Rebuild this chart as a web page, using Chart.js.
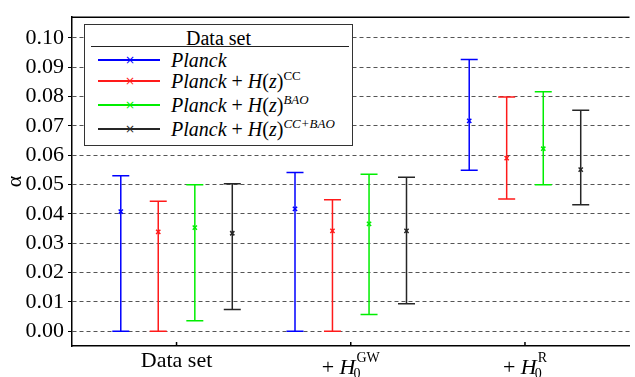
<!DOCTYPE html>
<html>
<head>
<meta charset="utf-8">
<script src="https://cdn.jsdelivr.net/npm/chart.js@4.4.1/dist/chart.umd.min.js"></script>
<style>
    body { margin: 0; background: #fff; }
    #wrap { position: relative; width: 635px; height: 377px; font-family: 'Liberation Serif', 'DejaVu Serif', 'Noto Serif', Tinos, FreeSerif, 'Times New Roman', Times, serif; }
    #wrap canvas { position: absolute; left: 0; top: 0; }
    .xlab { position: absolute; white-space: nowrap; color: #000; font-size: 22px; line-height: 22px; transform: translateX(-50%); }
    .xlab i { font-size: 22px; }
    .ss { display: inline-block; vertical-align: -4px; font-size: 14px; line-height: 16px; margin-left: 1px; }
    .ss .sup { display: block; }
    .ss .sub { display: block; margin-left: -3px; }
    #legend { position: absolute; left: 84px; top: 24px; width: 267px; height: 120px; border: 1.5px solid #333; background: #fff; color: #000; }
    #legend .title { position: absolute; left: 0; right: 0; top: 3px; text-align: center; font-size: 20px; line-height: 20px; }
    #legend .rule { position: absolute; left: 6px; right: 3px; top: 20.5px; height: 0; border-top: 1px solid #222; }
    #legend .row { position: absolute; left: 0; height: 20px; }
    #legend .ln { position: absolute; left: 13px; width: 62px; height: 0; border-top: 2px solid; top: 9px; }
    #legend .mk { position: absolute; left: 40px; top: 0px; font-size: 12px; line-height: 20px; font-family: 'DejaVu Sans', sans-serif; }
    #legend .tx { position: absolute; left: 86px; top: 0; font-size: 20px; line-height: 20px; white-space: nowrap; }
    #legend sup { font-size: 13px; vertical-align: 8px; line-height: 0; }
</style>
</head>
<body>
<div id="wrap">
    <canvas id="myChart" width="635" height="377"></canvas>
    <div id="legend"></div>
</div>

<script>
    // categories along x
    var categories = ['Data set', '+H0GW', '+H0R']
    var categoryHtml = ['Data set',
        '+ <i>H</i><span class="ss"><span class="sup">GW</span><span class="sub">0</span></span>',
        '+ <i>H</i><span class="ss"><span class="sup">R</span><span class="sub">0</span></span>']

    // series (best fit and 1-sigma range, alpha)
    var seriesNames = ['Planck', 'Planck + H(z)CC', 'Planck + H(z)BAO', 'Planck + H(z)CC+BAO']
    var seriesHtml = ['<i>Planck</i>',
        '<i>Planck</i> + <i>H</i>(<i>z</i>)<sup>CC</sup>',
        '<i>Planck</i> + <i>H</i>(<i>z</i>)<sup><i>BAO</i></sup>',
        '<i>Planck</i> + <i>H</i>(<i>z</i>)<sup><i>CC+BAO</i></sup>']
    var seriesColors = ['#0000ff', '#ff1a1a', '#00ee00', '#262626']

    var planckMid = [0.0408, 0.0417, 0.0717]
    var planckLow = [0.0000, 0.0000, 0.0549]
    var planckHigh = [0.0530, 0.0541, 0.0926]

    var ccMid = [0.0339, 0.0342, 0.0590]
    var ccLow = [0.0000, 0.0000, 0.0451]
    var ccHigh = [0.0443, 0.0448, 0.0798]

    var baoMid = [0.0353, 0.0366, 0.0622]
    var baoLow = [0.0036, 0.0057, 0.0499]
    var baoHigh = [0.0499, 0.0535, 0.0816]

    var ccBaoMid = [0.0334, 0.0342, 0.0551]
    var ccBaoLow = [0.0074, 0.0094, 0.0431]
    var ccBaoHigh = [0.0503, 0.0525, 0.0753]

    var yTicks = [0.00, 0.01, 0.02, 0.03, 0.04, 0.05, 0.06, 0.07, 0.08, 0.09, 0.10]

    var mids = [planckMid, ccMid, baoMid, ccBaoMid]
    var lows = [planckLow, ccLow, baoLow, ccBaoLow]
    var highs = [planckHigh, ccHigh, baoHigh, ccBaoHigh]
    var shift = [-0.32, -0.105, 0.105, 0.32]

    var serif = "'Liberation Serif', 'DejaVu Serif', 'Noto Serif', Tinos, FreeSerif, 'Times New Roman', Times, serif"

    var datasets = seriesNames.map(function (name, s) {
        return {
            label: name,
            data: categories.map(function (c, i) {
                return { x: i + shift[s], y: mids[s][i], lo: lows[s][i], hi: highs[s][i] }
            }),
            borderColor: seriesColors[s],
            backgroundColor: seriesColors[s],
            pointStyle: 'crossRot',
            pointRadius: 3,
            pointBorderWidth: 1.5,
            showLine: false
        }
    })

    // error bars, top frame line and inward x ticks
    var errorBars = {
        id: 'errorBars',
        beforeDatasetsDraw: function (chart) {
            var ctx = chart.ctx, x = chart.scales.x, y = chart.scales.y
            ctx.save()
            ctx.lineWidth = 1.5
            chart.data.datasets.forEach(function (ds) {
                ctx.strokeStyle = ds.borderColor
                ds.data.forEach(function (p) {
                    var px = x.getPixelForValue(p.x)
                    var y0 = y.getPixelForValue(p.lo), y1 = y.getPixelForValue(p.hi)
                    ctx.beginPath()
                    ctx.moveTo(px, y0); ctx.lineTo(px, y1)
                    ctx.moveTo(px - 8.5, y0); ctx.lineTo(px + 8.5, y0)
                    ctx.moveTo(px - 8.5, y1); ctx.lineTo(px + 8.5, y1)
                    ctx.stroke()
                })
            })
            ctx.restore()
        },
        afterDraw: function (chart) {
            var ctx = chart.ctx, a = chart.chartArea, x = chart.scales.x
            ctx.save()
            ctx.strokeStyle = '#000'
            ctx.lineWidth = 1.5
            ctx.beginPath()
            ctx.moveTo(a.left, a.top); ctx.lineTo(a.right, a.top)
            categories.forEach(function (c, i) {
                var px = x.getPixelForValue(i)
                ctx.moveTo(px, a.bottom); ctx.lineTo(px, a.bottom - 4)
            })
            ctx.stroke()
            ctx.restore()
        }
    }

    var ctx = document.getElementById('myChart').getContext('2d')
    var myChart = new Chart(ctx, {
        type: 'scatter',
        data: { datasets: datasets },
        options: {
            responsive: false,
            animation: false,
            layout: { padding: { top: 12, right: 0, left: 0, bottom: 0 } },
            plugins: { legend: { display: false }, tooltip: { enabled: false } },
            scales: {
                x: {
                    type: 'linear',
                    min: -0.6,
                    max: 2.6,
                    afterBuildTicks: function (s) { s.ticks = categories.map(function (c, i) { return { value: i } }) },
                    afterFit: function (s) { s.height = 31 },
                    grid: { display: false },
                    border: { display: true, color: '#000', width: 1.5 },
                    ticks: { display: false }
                },
                y: {
                    min: -0.005,
                    max: 0.107,
                    afterBuildTicks: function (s) { s.ticks = yTicks.map(function (v) { return { value: v } }) },
                    afterFit: function (s) { s.width = 72 },
                    border: { display: true, color: '#000', width: 1.5, dash: [4, 3] },
                    grid: {
                        color: '#555',
                        lineWidth: 1,
                        tickColor: '#000',
                        tickLength: 4,
                        tickBorderDash: [],
                        drawTicks: true
                    },
                    ticks: {
                        color: '#000',
                        padding: 4,
                        font: { family: serif, size: 22 },
                        callback: function (v) { return v.toFixed(2) }
                    },
                    title: {
                        display: true,
                        text: 'α',
                        color: '#000',
                        font: { family: serif, size: 22 },
                        padding: { top: 2, bottom: 0 }
                    }
                }
            }
        },
        plugins: [errorBars]
    })

    // x category labels, placed from the x scale
    var wrap = document.getElementById('wrap')
    var labelTops = [349, 350, 350]
    categories.forEach(function (c, i) {
        var d = document.createElement('div')
        d.className = 'xlab'
        d.innerHTML = categoryHtml[i]
        d.style.left = myChart.scales.x.getPixelForValue(i) + 'px'
        d.style.top = labelTops[i] + 'px'
        wrap.appendChild(d)
    })

    // legend
    var legend = document.getElementById('legend')
    var html = '<div class="title">Data set</div><div class="rule"></div>'
    var rowTops = [25, 46, 70, 94]
    seriesNames.forEach(function (name, s) {
        html += '<div class="row" style="top:' + rowTops[s] + 'px">' +
            '<div class="ln" style="border-color:' + seriesColors[s] + '"></div>' +
            '<div class="mk" style="color:' + seriesColors[s] + '">×</div>' +
            '<div class="tx">' + seriesHtml[s] + '</div></div>'
    })
    legend.innerHTML = html
</script>
</body>
</html>
